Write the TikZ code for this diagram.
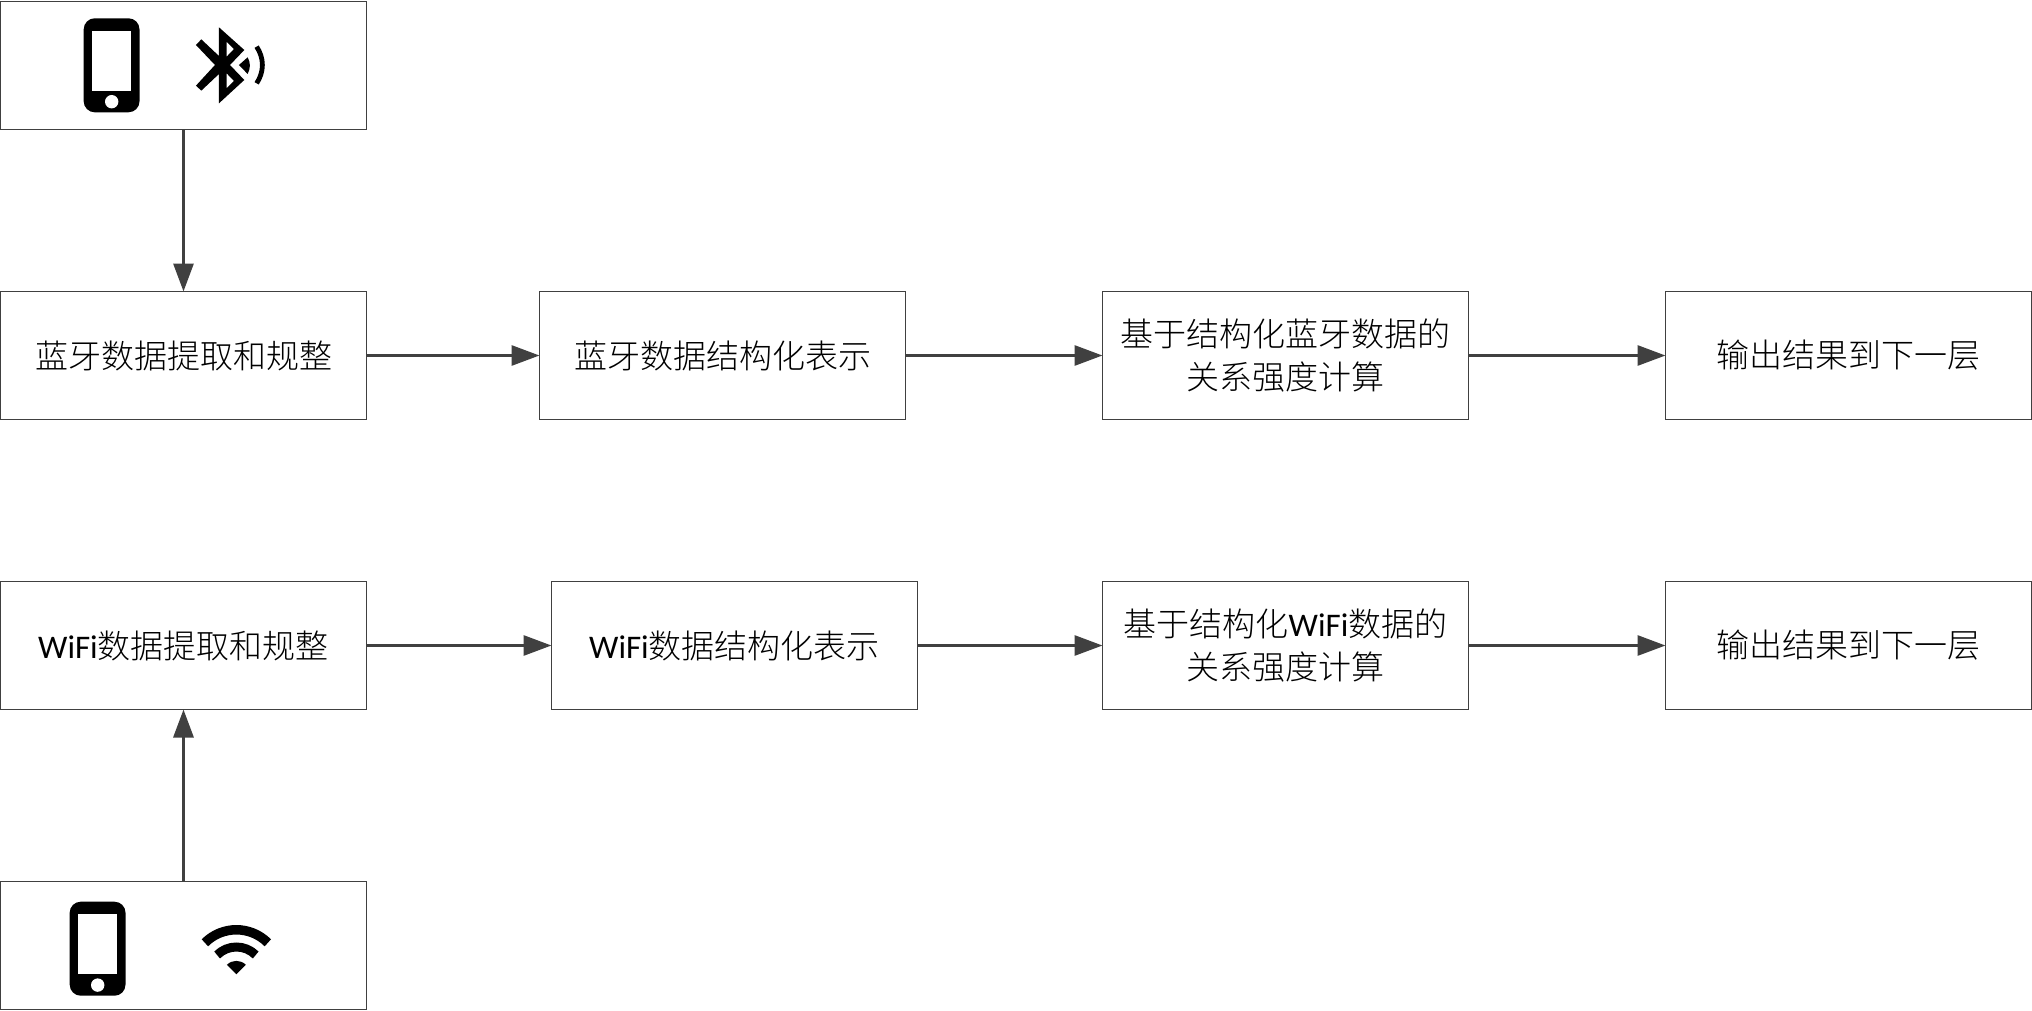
\documentclass[tikz,border=0pt]{standalone}
\usepackage{fontspec}
\usetikzlibrary{arrows.meta}
\setmainfont{Carlito}
\newfontfamily\cjk{Noto Sans CJK SC Light}
\newfontfamily\latn{Carlito}
\definecolor{edge}{HTML}{404040}
\tikzset{
  box/.style={draw=edge,line width=1pt,minimum width=366pt,minimum height=128pt,inner sep=0pt,outer sep=0pt,align=center,
    font=\fontsize{33pt}{43pt}\selectfont\cjk},
  flow/.style={draw=edge,line width=3pt,-{Triangle[length=28pt,width=20pt,fill=edge]}},
  icon/.style={fill=black,draw=none},
  phonescreen/.style={fill=white,draw=none}
}
\newcommand{\phoneicon}[2]{%
  \begin{scope}[shift={(#1,#2)}]
    \fill[icon] (0,0) [rounded corners=11pt] rectangle (55.8,94);
    \fill[phonescreen] (8.6,12.7) rectangle (47.2,72.4);
    \fill[phonescreen] (28,83.4) circle (6.7);
  \end{scope}}
\begin{document}
\begin{tikzpicture}[x=1pt,y=-1pt]
\useasboundingbox (0,0) rectangle (2032,1011);
\fill[white] (0,0) rectangle (2032,1011);

\node[box] (btsrc)  at (183.5,65.5)   {};
\node[box] (bt1)    at (183.5,355.5)  {蓝牙数据提取和规整};
\node[box] (bt2)    at (722.5,355.5)  {蓝牙数据结构化表示};
\node[box] (bt3)    at (1285.5,355.5) {基于结构化蓝牙数据的\\关系强度计算};
\node[box] (bt4)    at (1848.5,355.5) {输出结果到下一层};
\node[box] (wf1)    at (183.5,645.5)  {{\latn WiFi}数据提取和规整};
\node[box] (wf2)    at (734.5,645.5)  {{\latn WiFi}数据结构化表示};
\node[box] (wf3)    at (1285.5,645.5) {基于结构化{\latn WiFi}数据的\\关系强度计算};
\node[box] (wf4)    at (1848.5,645.5) {输出结果到下一层};
\node[box] (wfsrc)  at (183.5,945.5)  {};

\draw[flow] (btsrc.south) -- (bt1.north);
\draw[flow] (bt1.east) -- (bt2.west);
\draw[flow] (bt2.east) -- (bt3.west);
\draw[flow] (bt3.east) -- (bt4.west);
\draw[flow] (wfsrc.north) -- (wf1.south);
\draw[flow] (wf1.east) -- (wf2.west);
\draw[flow] (wf2.east) -- (wf3.west);
\draw[flow] (wf3.east) -- (wf4.west);

% phones
\phoneicon{83.7}{18.3}
\phoneicon{69.7}{901.7}

% bluetooth rune (coordinates in 3x crop units)
\begin{scope}[x=0.3333pt,y=-0.3333pt]
  \fill[icon,even odd rule]
    (657,82) -- (733,150) -- (690,195) -- (733,240) -- (657,310) -- (657,222) -- (604,272) -- (588,257)
    -- (645,195) -- (588,135) -- (604,118) -- (657,168) -- cycle
    (680,125) -- (702,147) -- (680,170) -- cycle
    (680,220) -- (702,243) -- (680,265) -- cycle;
  \fill[icon] (717,195) -- (743,172) .. controls (752,188) and (752,205) .. (743,222) -- cycle;
  \draw[draw=black,line width=4.8pt] (770,140) .. controls (793,175) and (793,215) .. (770,250);
\end{scope}

% wifi
\coordinate (wc) at (236.4,974.3);
\fill[icon] (wc) -- ++(-9.5,-9.5) arc[start angle=225,end angle=315,radius=13.4] -- cycle;
\draw[draw=black,line width=9pt] (wc) ++(-19.3,-19.3) arc[start angle=225,end angle=315,radius=27.3];
\draw[draw=black,line width=9.5pt] (wc) ++(-31.5,-31.5) arc[start angle=225,end angle=315,radius=44.5];
\end{tikzpicture}
\end{document}
